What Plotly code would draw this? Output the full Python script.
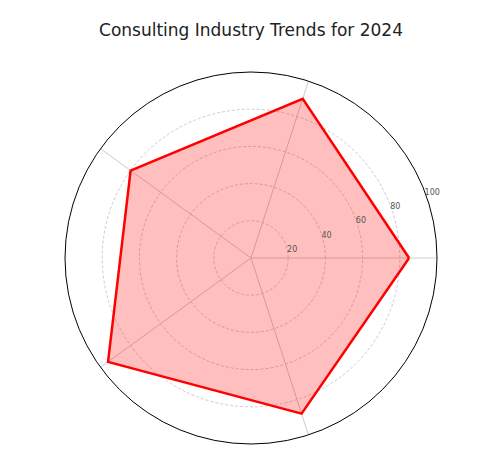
import plotly.graph_objects as go

categories = ["Niche Expertise", "Synergy of Niche & Tech", "Digital Transformation", "AI & Automation", "Data Analytics"]
values = [85, 90, 80, 95, 88]
label_r = [106] * len(categories)

theta = categories + categories[:1]
r = values + values[:1]

fig = go.Figure(go.Scatterpolar(
    r=r, theta=theta, mode="lines", fill="toself",
    line=dict(color="red", width=2.5), fillcolor="rgba(255,0,0,0.25)"))
fig.add_trace(go.Scatterpolar(
    r=label_r, theta=categories, mode="text", text=categories, textposition="middle center",
    textfont=dict(size=13, color="#111", family="DejaVu Sans"), cliponaxis=False, hoverinfo="skip"))

fig.update_layout(
    width=500, height=453, paper_bgcolor="white", showlegend=False,
    margin=dict(l=57, r=71, t=64, b=17),
    title=dict(text="Consulting Industry Trends for 2024", x=0.486, xanchor="center", y=0.965,
               font=dict(family="DejaVu Sans", size=17, color="#222")),
    font=dict(family="DejaVu Sans", color="#222"),
    polar=dict(
        bgcolor="white",
        radialaxis=dict(range=[0, 100], tickvals=[20, 40, 60, 80, 100], angle=22.5, tickangle=22.5,
                        showline=False, ticks="", gridcolor="#ccc", griddash="3px,2px",
                        tickfont=dict(size=8, color="#555")),
        angularaxis=dict(rotation=0, direction="counterclockwise", linecolor="black", linewidth=1,
                         gridcolor="#ccc", ticks="", showticklabels=False),
    ),
)
fig.write_html("out.html")
